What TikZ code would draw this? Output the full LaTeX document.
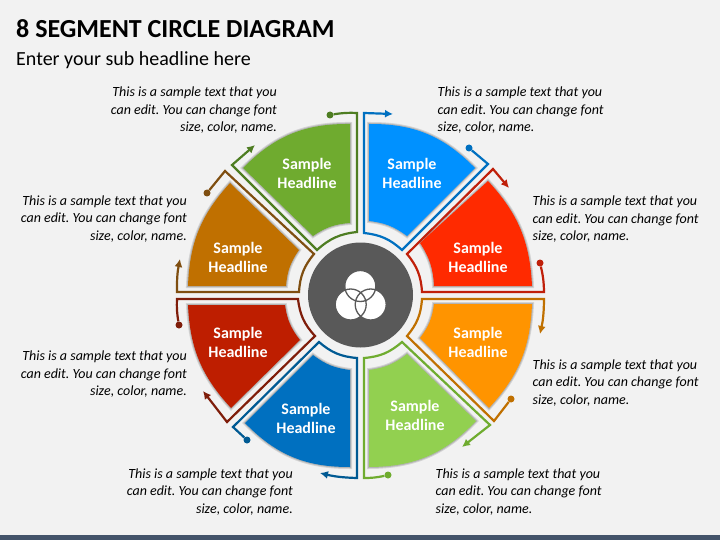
\documentclass[tikz,border=0pt]{standalone}
\usepackage{fontspec}
\setmainfont{Carlito}
\frenchspacing
\usetikzlibrary{arrows.meta}
\usetikzlibrary{positioning}
\definecolor{bgcol}{HTML}{F2F2F2}
\definecolor{barcol}{HTML}{44546A}
\definecolor{hubcol}{HTML}{595959}
\definecolor{greenA}{HTML}{6FAB2F}
\definecolor{greenB}{HTML}{4E7D22}
\definecolor{blueA}{HTML}{0091FF}
\definecolor{blueB}{HTML}{0070C0}
\definecolor{redA}{HTML}{FF2A00}
\definecolor{redB}{HTML}{C0200A}
\definecolor{orangeA}{HTML}{FF9400}
\definecolor{orangeB}{HTML}{C07000}
\definecolor{limeA}{HTML}{92D050}
\definecolor{limeB}{HTML}{6FAC2F}
\definecolor{navyA}{HTML}{0070C0}
\definecolor{navyB}{HTML}{005A93}
\definecolor{crimsonA}{HTML}{BE1E00}
\definecolor{crimsonB}{HTML}{7F1D0A}
\definecolor{brownA}{HTML}{C07000}
\definecolor{brownB}{HTML}{7F4E10}
\tikzset{>=latex}
\tikzset{seg/.style = {preaction = {draw = black, opacity = 0.12, line width = 4pt}, preaction = {draw = black, opacity = 0.15, line width = 2pt}}}
\tikzset{head/.style = {draw = none, inner sep = 0, align = center, text = white, font = \fontsize{16}{19}\selectfont\bfseries}}
\tikzset{noteL/.style = {draw = none, inner sep = 0, anchor = west, align = left, font = \fontsize{14}{17.5}\selectfont\itshape}}
\tikzset{noteR/.style = {draw = none, inner sep = 0, anchor = east, align = right, font = \fontsize{14}{17.5}\selectfont\itshape}}
\tikzset{dot/.style = {circle, inner sep = 0, minimum size = 7pt, fill = #1}}
\tikzset{rim/.style = {line width = 2.2pt, line join = miter, draw = #1}}
\tikzset{rimtip/.style = {rim = #1, -{Latex[length = 8pt, width = 8pt]}}}
\begin{document}
\begin{tikzpicture}[x=1pt, y=-1pt]
\fill [bgcol] (0,0) rectangle (720,540);
\fill [barcol] (0,535) rectangle (720,540);
% title
\node [draw=none, inner sep = 0, anchor = west, font = \fontsize{26}{30}\selectfont\bfseries] (title) at (16,28.5) {8 SEGMENT CIRCLE DIAGRAM};
\node [draw=none, inner sep = 0, anchor = west, font = \fontsize{20}{24}\selectfont] (subtitle) at (16,60.5) {Enter your sub headline here};
% segments
\fill [greenA, seg] (243,168) to[bend left=23] (350,124) -- (350,223) to[bend right=15] (313,236) -- cycle;
\fill [blueA, seg] (369,124) to[bend left=23] (475,168) -- (407,236) to[bend right=15] (369,221) -- cycle;
\fill [redA, seg] (420,243) -- (488,181) to[bend left=20] (532,286) -- (434,286) to[bend right=15] cycle;
\fill [orangeA, seg] (434,304) -- (532,304) to[bend left=20] (489,408) -- (420,338) to[bend right=15] cycle;
\fill [limeA, seg] (407,354) -- (476,421) to[bend left=23] (369,467) -- (369,370) to[bend right=15] cycle;
\fill [navyA, seg] (313,355) to[bend right=15] (350,370) -- (350,467) to[bend left=23] (245,423) -- cycle;
\fill [crimsonA, seg] (188,305) -- (285,305) to[bend right=15] (300,340) -- (231,408) to[bend left=20] cycle;
\fill [brownA, seg] (230,183) -- (299,250) to[bend right=15] (286,286) -- (188,286) to[bend left=20] cycle;
% segment labels
\node [head] (sGreen) at (307,173) {Sample\\Headline};
\node [head] (sBlue) at (412,173) {Sample\\Headline};
\node [head] (sRed) at (478,257) {Sample\\Headline};
\node [head] (sOrange) at (478,342) {Sample\\Headline};
\node [head] (sLime) at (415,415) {Sample\\Headline};
\node [head] (sNavy) at (306,418) {Sample\\Headline};
\node [head] (sCrimson) at (238,342) {Sample\\Headline};
\node [head] (sBrown) at (238,257) {Sample\\Headline};
% rim lines
\node [dot=greenB] (dGreen) at (330,115) {};
\coordinate (tGreen) at (255,145);
\draw [rimtip=greenB] (dGreen) to[bend left=6] (357,113) -- (357,232) to[bend right=18] (317,250) -- (232,165) -- (tGreen);
\coordinate (tBlue) at (393,114);
\node [dot=blueB] (dBlue) at (469,148) {};
\draw [rimtip=blueB] (dBlue) -- (488,164) -- (402,250) to[bend right=18] (364,233) -- (364,113) -- (tBlue);
\node [dot=redB] (dRed) at (540,263) {};
\coordinate (tRed) at (509,188);
\draw [rimtip=redB] (dRed) to[bend left=6] (544,292) -- (422,292) to[bend right=18] (407,254) -- (493,169) -- (tRed);
\coordinate (tOrange) at (540,334);
\node [dot=orangeB] (dOrange) at (511,399) {};
\draw [rimtip=orangeB] (dOrange) -- (494,421) -- (407,336) to[bend right=18] (422,299) -- (544,299) to[bend left=6] (tOrange);
\node [dot=limeB] (dLime) at (388,475) {};
\coordinate (tLime) at (462,447);
\draw [rimtip=limeB] (dLime) to[bend left=6] (364,478) -- (364,358) to[bend right=18] (402,342) -- (490,425) -- (tLime);
\coordinate (tNavy) at (320,473);
\node [dot=navyB] (dNavy) at (247,440) {};
\draw [rimtip=navyB] (dNavy) -- (233,427) -- (319,342) to[bend right=18] (357,358) -- (357,478) to[bend left=6] (tNavy);
\node [dot=crimsonB] (dCrimson) at (179,325) {};
\coordinate (tCrimson) at (203,391);
\draw [rimtip=crimsonB] (dCrimson) to[bend left=6] (177,299) -- (298,299) to[bend right=18] (315,336) -- (227,422) -- (tCrimson);
\coordinate (tBrown) at (180,259);
\node [dot=brownB] (dBrown) at (207,193) {};
\draw [rimtip=brownB] (dBrown) -- (225,171) -- (314,254) to[bend right=18] (299,292) -- (177,292) to[bend left=6] (tBrown);
% hub
\node [circle, fill=hubcol, inner sep = 0, minimum size = 105pt] (hub) at (360.5,295) {};
\foreach \cx/\cy in {360.3/286, 350.7/304.5, 370.7/304.5} {
  \fill [white] (\cx,\cy) circle (15.5);
}
\foreach \cx/\cy in {360.3/286, 350.7/304.5, 370.7/304.5} {
  \draw [hubcol, line width = 1.3pt] (\cx,\cy) circle (15.5);
}
% notes
\node [noteR] (nTopL) at (277,110.5) {This is a sample text that you\\can edit. You can change font\\size, color, name.};
\node [noteL] (nTopR) at (437.5,110.5) {This is a sample text that you\\can edit. You can change font\\size, color, name.};
\node [noteR] (nMidUL) at (187,219) {This is a sample text that you\\can edit. You can change font\\size, color, name.};
\node [noteL] (nMidUR) at (532.5,219.5) {This is a sample text that you\\can edit. You can change font\\size, color, name.};
\node [noteR] (nMidLL) at (187,374.5) {This is a sample text that you\\can edit. You can change font\\size, color, name.};
\node [noteL] (nMidLR) at (532.5,383) {This is a sample text that you\\can edit. You can change font\\size, color, name.};
\node [noteR] (nBotL) at (293,492) {This is a sample text that you\\can edit. You can change font\\size, color, name.};
\node [noteL] (nBotR) at (435.5,492) {This is a sample text that you\\can edit. You can change font\\size, color, name.};
\end{tikzpicture}
\end{document}
